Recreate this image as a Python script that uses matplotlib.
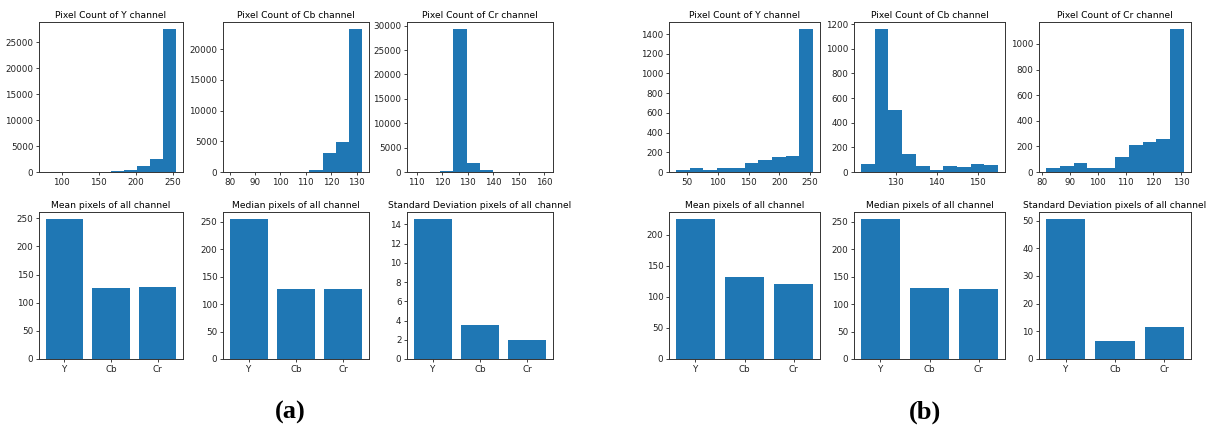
import numpy as np
import matplotlib
matplotlib.use("Agg")
import matplotlib.pyplot as plt

W, H = 1211, 430
BLUE = "#1f77b4"

channels = ["Y", "Cb", "Cr"]

# ---- (a) histograms: value range of each channel and counts in 10 bins
a_y_range = (78, 255)
a_y_counts = [5, 5, 5, 10, 60, 120, 420, 1150, 2550, 27500]
a_cb_range = (80, 132.3)
a_cb_counts = [5, 5, 5, 5, 10, 80, 400, 3050, 4950, 23250]
a_cr_range = (108.8, 160.9)
a_cr_counts = [5, 10, 200, 29300, 1750, 400, 20, 5, 5, 5]

# ---- (a) per-channel statistics
a_mean = [248.8, 126.2, 128.4]
a_median = [255, 128, 128]
a_std = [14.55, 3.5, 1.95]

# ---- (b) histograms
b_y_range = (32, 255)
b_y_counts = [22, 44, 22, 44, 44, 90, 120, 152, 158, 1450]
b_cb_range = (121.5, 155)
b_cb_counts = [63, 1160, 505, 145, 52, 14, 46, 41, 68, 60]
b_cr_range = (81.4, 131)
b_cr_counts = [29, 50, 71, 34, 34, 120, 207, 238, 254, 1115]

# ---- (b) per-channel statistics
b_mean = [225, 131, 120.6]
b_median = [255, 129, 127]
b_std = [50.6, 6.5, 11.4]

# tick values shown on each axis
a_y_xticks = [100, 150, 200, 250]
a_y_yticks = [0, 5000, 10000, 15000, 20000, 25000]
a_cb_xticks = [80, 90, 100, 110, 120, 130]
a_cb_yticks = [0, 5000, 10000, 15000, 20000]
a_cr_xticks = [110, 120, 130, 140, 150, 160]
a_cr_yticks = [0, 5000, 10000, 15000, 20000, 25000, 30000]
b_y_xticks = [50, 100, 150, 200, 250]
b_y_yticks = [0, 200, 400, 600, 800, 1000, 1200, 1400]
b_cb_xticks = [130, 140, 150]
b_cb_yticks = [0, 200, 400, 600, 800, 1000, 1200]
b_cr_xticks = [80, 90, 100, 110, 120, 130]
b_cr_yticks = [0, 200, 400, 600, 800, 1000]

fig = plt.figure(figsize=(W / 100, H / 100), dpi=100)
fig.patch.set_facecolor("white")

TICK_FS = 6.3
TITLE_FS = 6.6


def make_ax(x0, x1, y0, y1):
    ax = fig.add_axes([x0 / W, 1 - y1 / H, (x1 - x0) / W, (y1 - y0) / H])
    for s in ax.spines.values():
        s.set_linewidth(0.7)
        s.set_color("#333333")
    ax.tick_params(labelsize=TICK_FS, length=2.5, width=0.6, pad=1.5,
                   colors="#222222")
    return ax


def draw_hist(ax, rng, counts, title, xticks, yticks):
    edges = np.linspace(rng[0], rng[1], len(counts) + 1)
    ax.hist(edges[:-1], bins=edges, weights=counts, color=BLUE)
    ax.set_title(title, fontsize=TITLE_FS, pad=3)
    ax.set_xticks(xticks)
    ax.set_yticks(yticks)


def draw_bars(ax, values, title):
    ax.bar(channels, values, color=BLUE)
    ax.set_title(title, fontsize=TITLE_FS, pad=3)


cols_a = [(39, 183), (223, 369), (407, 553)]
cols_b = [(669, 820), (854, 1005), (1039, 1191)]
row_top = (22, 172)
row_bot = (212, 359)

groups = [
    (cols_a,
     [(a_y_range, a_y_counts, "Y", a_y_xticks, a_y_yticks),
      (a_cb_range, a_cb_counts, "Cb", a_cb_xticks, a_cb_yticks),
      (a_cr_range, a_cr_counts, "Cr", a_cr_xticks, a_cr_yticks)],
     [a_mean, a_median, a_std]),
    (cols_b,
     [(b_y_range, b_y_counts, "Y", b_y_xticks, b_y_yticks),
      (b_cb_range, b_cb_counts, "Cb", b_cb_xticks, b_cb_yticks),
      (b_cr_range, b_cr_counts, "Cr", b_cr_xticks, b_cr_yticks)],
     [b_mean, b_median, b_std]),
]

stat_titles = ["Mean pixels of all channel",
               "Median pixels of all channel",
               "Standard Deviation pixels of all channel"]

for cols, hists, stats in groups:
    for (x0, x1), (rng, cnt, name, xt, yt) in zip(cols, hists):
        ax = make_ax(x0, x1, *row_top)
        draw_hist(ax, rng, cnt, f"Pixel Count of {name} channel", xt, yt)
    for (x0, x1), vals, t in zip(cols, stats, stat_titles):
        ax = make_ax(x0, x1, *row_bot)
        draw_bars(ax, vals, t)

fig.text(290 / W, 1 - 412 / H, "(a)", ha="center", va="center",
         fontsize=19, fontweight="bold", family="Liberation Serif")
fig.text(925 / W, 1 - 412 / H, "(b)", ha="center", va="center",
         fontsize=19, fontweight="bold", family="Liberation Serif")

fig.savefig("out.png", dpi=100, facecolor="white")
